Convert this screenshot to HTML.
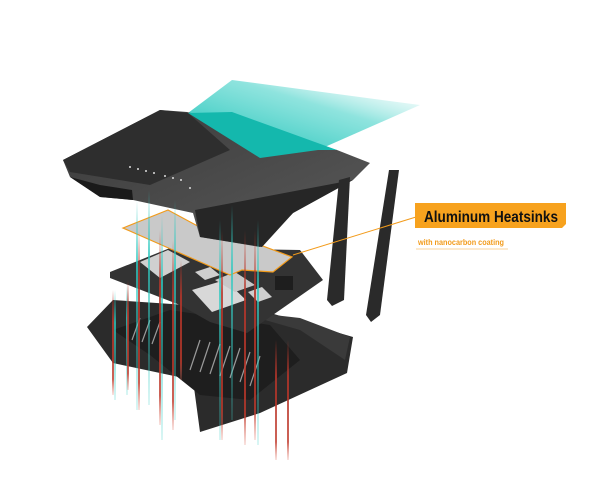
<!DOCTYPE html>
<html><head><style>
html,body{margin:0;padding:0;background:#fff;width:600px;height:486px;overflow:hidden}
svg{display:block}
</style></head><body>
<svg width="600" height="486" viewBox="0 0 600 486" xmlns="http://www.w3.org/2000/svg">
<defs>
<linearGradient id="beam" x1="0" y1="1" x2="1" y2="0">
<stop offset="0" stop-color="#10bfb4"/><stop offset="0.6" stop-color="#5fd8d0" stop-opacity="0.7"/><stop offset="1" stop-color="#d8f6f4" stop-opacity="0"/></linearGradient>
<linearGradient id="red" x1="0" y1="0" x2="0" y2="1">
<stop offset="0" stop-color="#c0392b" stop-opacity="0"/><stop offset="0.3" stop-color="#b5352a" stop-opacity="0.85"/><stop offset="0.85" stop-color="#c0392b" stop-opacity="0.8"/><stop offset="1" stop-color="#e07060" stop-opacity="0.2"/></linearGradient>
<linearGradient id="cyan" x1="0" y1="0" x2="0" y2="1">
<stop offset="0" stop-color="#2ec9c0" stop-opacity="0"/><stop offset="0.3" stop-color="#2ec9c0" stop-opacity="0.8"/><stop offset="1" stop-color="#40d0c8" stop-opacity="0.2"/></linearGradient>
<linearGradient id="cover" x1="0" y1="0" x2="1" y2="1">
<stop offset="0" stop-color="#3a3a3a"/><stop offset="1" stop-color="#5a5a5a"/></linearGradient>
</defs>
<polygon points="188,113 232,80 420,105 318,150" fill="url(#beam)"/>
<polygon points="87,327 113,300 260,310 353,337 347,373 260,413 200,432 193,380 113,363" fill="#2b2b2b"/>
<polygon points="113,330 170,310 270,325 300,360 250,400 200,395 150,355" fill="#1e1e1e"/>
<g stroke="#cfcfcf" stroke-width="1.2" opacity="0.7">
<line x1="200" y1="340" x2="190" y2="370"/><line x1="210" y1="342" x2="200" y2="372"/><line x1="220" y1="344" x2="210" y2="374"/><line x1="230" y1="346" x2="220" y2="376"/><line x1="240" y1="348" x2="230" y2="378"/><line x1="250" y1="352" x2="240" y2="382"/><line x1="260" y1="356" x2="250" y2="386"/>
<line x1="140" y1="318" x2="132" y2="340"/><line x1="150" y1="320" x2="142" y2="342"/><line x1="160" y1="322" x2="152" y2="344"/>
</g>
<polygon points="230,310 300,318 350,337 345,360 300,330" fill="#3a3a3a"/>
<polygon points="110,272 170,248 300,250 323,280 247,333 210,322 180,305 110,278" fill="#333"/>
<polygon points="140,262 168,250 190,262 160,278" fill="#d0d0d0"/>
<polygon points="192,290 225,280 246,300 212,312" fill="#d8d8d8"/>
<polygon points="215,280 235,272 255,285 235,292" fill="#c8c8c8"/>
<polygon points="248,292 262,287 272,297 258,302" fill="#cfcfcf"/>
<polygon points="195,272 210,267 220,275 205,280" fill="#cfcfcf"/>
<rect x="275" y="276" width="18" height="14" fill="#1e1e1e"/>
<polygon points="123,228 168,210 205,230 230,240 260,245 292,257 273,272 242,270 230,275 173,250" fill="#c9c9c9" stroke="#f29b1b" stroke-width="1.2"/>
<polygon points="63,160 160,110 187,112 337,150 370,163 353,180 293,213 260,247 200,237 193,213 133,200 100,197 70,177" fill="url(#cover)"/>
<polygon points="188,113 232,112 337,150 318,150 260,158" fill="#14b8ad"/>
<polygon points="63,160 160,110 188,113 230,150 150,185 70,172" fill="#2e2e2e"/>
<polygon points="195,210 353,180 293,213 262,247 200,237" fill="#262626"/>
<polygon points="70,177 100,197 133,200 132,190 100,185" fill="#1a1a1a"/>
<g fill="#ddd"><circle cx="130" cy="167" r="1"/><circle cx="138" cy="169" r="1"/><circle cx="146" cy="171" r="1"/><circle cx="154" cy="173" r="1"/><circle cx="165" cy="176" r="1"/><circle cx="173" cy="178" r="1"/><circle cx="181" cy="180" r="1"/><circle cx="190" cy="188" r="1"/></g>
<polygon points="339,180 350,177 344,300 332,306 327,300" fill="#2a2a2a"/>
<polygon points="389,170 399,170 380,315 371,322 366,315" fill="#2a2a2a"/>
<g>
<rect x="114" y="290" width="2" height="110" fill="url(#cyan)"/>
<rect x="126" y="285" width="2" height="110" fill="url(#cyan)"/>
<rect x="136" y="200" width="2" height="210" fill="url(#cyan)"/>
<rect x="148" y="190" width="2" height="215" fill="url(#cyan)"/>
<rect x="161" y="215" width="2" height="225" fill="url(#cyan)"/>
<rect x="174" y="200" width="2" height="220" fill="url(#cyan)"/>
<rect x="219" y="220" width="2" height="220" fill="url(#cyan)"/>
<rect x="231" y="205" width="2" height="215" fill="url(#cyan)"/>
<rect x="257" y="220" width="2" height="225" fill="url(#cyan)"/>
<rect x="112" y="290" width="2" height="105" fill="url(#red)"/>
<rect x="127" y="280" width="2" height="110" fill="url(#red)"/>
<rect x="138" y="230" width="2" height="180" fill="url(#red)"/>
<rect x="159" y="230" width="2" height="195" fill="url(#red)"/>
<rect x="172" y="240" width="2" height="190" fill="url(#red)"/>
<rect x="180" y="260" width="2" height="120" fill="url(#red)"/>
<rect x="221" y="230" width="2" height="210" fill="url(#red)"/>
<rect x="244" y="230" width="2" height="215" fill="url(#red)"/>
<rect x="254" y="230" width="2" height="210" fill="url(#red)"/>
<rect x="275" y="340" width="2" height="120" fill="url(#red)"/>
<rect x="287" y="340" width="2" height="120" fill="url(#red)"/>
</g>
<line x1="293" y1="255" x2="416" y2="217" stroke="#f29b1b" stroke-width="1"/>
<polygon points="415,203 566,203 566,224 562,228 415,228" fill="#f7a21e"/>
<text x="424" y="222" font-family="Liberation Sans, sans-serif" font-weight="bold" font-size="15.5" fill="#111" textLength="134" lengthAdjust="spacingAndGlyphs">Aluminum Heatsinks</text>
<text x="418" y="245" font-family="Liberation Sans, sans-serif" font-weight="bold" font-size="8" fill="#f29b1b" textLength="86" lengthAdjust="spacingAndGlyphs">with nanocarbon coating</text>
<line x1="416" y1="249" x2="508" y2="249" stroke="#f7c47a" stroke-width="0.8"/>
</svg>
</body></html>
